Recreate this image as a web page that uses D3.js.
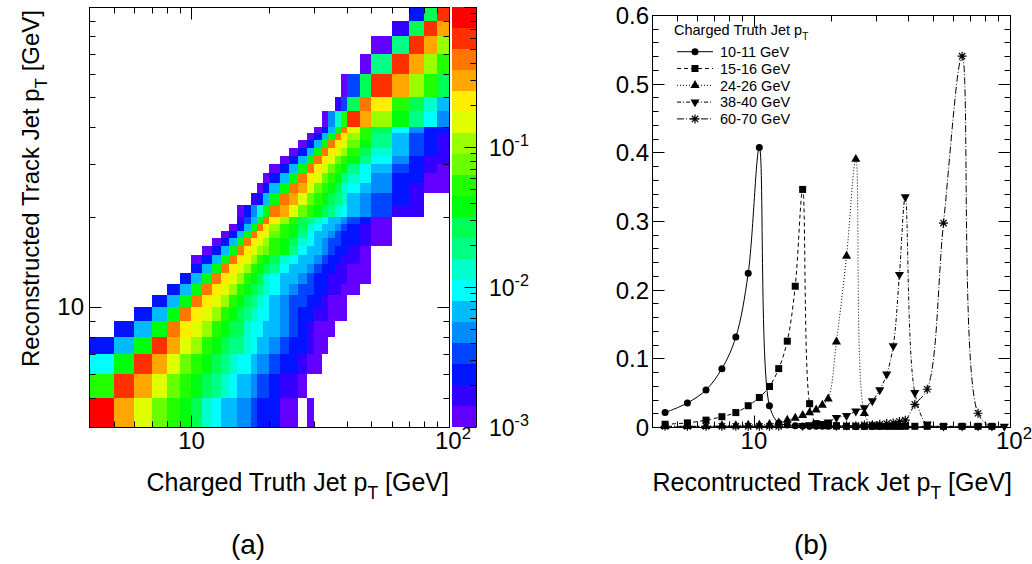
<!DOCTYPE html>
<html>
<head>
<meta charset="utf-8">
<script src="https://d3js.org/d3.v7.min.js"></script>
<style>
  body { margin: 0; background: #fff; }
  svg text { font-family: "Liberation Sans", Arial, Helvetica, sans-serif; fill: #000; }
</style>
</head>
<body>
<svg id="chart" width="1032" height="564"></svg>
<script>
// pT binning (GeV) used for both truth (x) and reco (y) axes
var binEdges = [4,5,6,7,8,9,10,11,12,13,14,15,16,17,18,19,20,22,24,26,28,30,32,34,36,38,40,45,50,60,70,80,90,100];

// response matrix, one entry per reco bin (bottom to top):
// first filled truth bin, then the fractions from that bin to the right
var rowStart = [0,0,0,0,1,2,3,4,5,6,6,7,8,9,10,11,11,13,14,15,16,17,18,19,20,21,22,24,25,27,28,29,30];
var rowValues = [
  [.84,.30,.15,.075,.053,.038,.027,.013,.0094,.0067,.0067,.0047,.0047,.0034,.0024,.0024,.0024,.0012,.0012,0,.0012],
  [.053,.60,.30,.15,.075,.053,.038,.027,.019,.013,.0094,.0067,.0067,.0047,.0034,.0034,.0024,.0017,.0017,.0012],
  [.0094,.038,.60,.30,.15,.075,.053,.038,.027,.019,.013,.0094,.0094,.0067,.0047,.0047,.0034,.0024,.0024,.0017,.0012,.0012],
  [.0024,.0067,.038,.60,.30,.15,.11,.053,.038,.027,.019,.019,.013,.0094,.0067,.0067,.0047,.0034,.0024,.0024,.0017,.0012,.0012],
  [.0024,.0067,.038,.42,.21,.15,.11,.053,.038,.027,.027,.013,.0094,.0094,.0067,.0067,.0047,.0034,.0024,.0017,.0012,.0012,.0012],
  [.0024,.0067,.038,.42,.21,.15,.11,.053,.038,.027,.019,.013,.0094,.0094,.0067,.0047,.0034,.0024,.0024,.0017,.0017,.0012,.0012,.0012],
  [.0024,.0067,.038,.42,.21,.15,.11,.053,.038,.027,.019,.013,.0094,.0067,.0047,.0034,.0034,.0024,.0024,.0017,.0012,.0012,.0012],
  [.0024,.0067,.038,.42,.21,.15,.11,.053,.038,.027,.019,.013,.0094,.0067,.0047,.0034,.0034,.0024,.0024,.0017,.0017,.0012,.0012],
  [.0024,.0067,.038,.42,.21,.15,.11,.053,.038,.027,.013,.0094,.0067,.0067,.0047,.0034,.0024,.0024,.0017,.0017,.0017,.0012,.0012],
  [.0024,.0067,.038,.42,.21,.15,.11,.053,.038,.027,.019,.0094,.0067,.0067,.0047,.0034,.0024,.0024,.0017,.0017,.0012,.0012],
  [.0012,.0024,.0067,.038,.42,.21,.15,.11,.053,.038,.027,.013,.0094,.0067,.0067,.0047,.0034,.0024,.0024,.0017,.0017,.0012],
  [.0012,.0024,.0067,.038,.42,.21,.15,.11,.075,.053,.038,.019,.0094,.0067,.0067,.0047,.0034,.0024,.0024,.0017,.0012],
  [.0012,.0024,.0067,.038,.42,.21,.15,.11,.053,.038,.027,.013,.0094,.0067,.0047,.0034,.0034,.0024,.0024,.0017,.0012],
  [.0012,.0024,.0067,.038,.42,.21,.15,.075,.053,.038,.019,.0094,.0067,.0067,.0047,.0034,.0024,.0024,.0017,.0012],
  [.0012,.0024,.0067,.038,.42,.21,.11,.053,.038,.027,.013,.0094,.0067,.0067,.0047,.0034,.0024,.0017,.0012],
  [.0017,.0034,.0067,.038,.42,.21,.11,.053,.027,.019,.013,.0094,.0067,.0067,.0047,.0034,.0024,.0012],
  [.0012,.0024,.0047,.013,.038,.42,.30,.15,.075,.053,.038,.027,.019,.013,.0094,.0067,.0047,.0034,.0017,.0017],
  [.0017,.0024,.0067,.038,.42,.30,.15,.075,.053,.038,.027,.019,.013,.0067,.0047,.0034,.0024,.0017],
  [.0012,.0024,.0067,.038,.42,.30,.15,.075,.053,.038,.027,.013,.0094,.0067,.0047,.0024,.0017,.0012,.0012],
  [.0012,.0024,.0067,.038,.42,.21,.15,.075,.053,.038,.019,.013,.0094,.0047,.0024,.0024,.0012,.0012],
  [.0012,.0024,.0067,.038,.42,.21,.15,.075,.053,.038,.019,.0094,.0067,.0034,.0024,.0017,.0012],
  [.0012,.0024,.0067,.038,.42,.21,.15,.075,.053,.038,.019,.0094,.0047,.0024,.0017,.0017],
  [.0012,.0024,.0067,.038,.42,.21,.15,.11,.053,.027,.013,.0067,.0034,.0024,.0017],
  [.0012,.0024,.0067,.038,.42,.21,.15,.075,.038,.019,.0067,.0034,.0024,.0017],
  [.0012,.0024,.0067,.038,.42,.21,.11,.053,.019,.0067,.0034,.0024,.0017],
  [.0012,.0024,.0067,.038,.42,.15,.053,.027,.0094,.0047,.0024,.0024],
  [.0012,.0047,.013,.053,.60,.30,.11,.038,.019,.0094,.0047],
  [.0017,.0034,.027,.42,.21,.053,.027,.013,.0067],
  [.0012,.0034,.027,.60,.30,.11,.053,.027],
  [.0012,.019,.60,.30,.11,.053],
  [.0012,.019,.60,.30,.11],
  [.0017,.027,.60,.30],
  [.0024,.027,.60]
];

// panel (b): reco pT distributions for five truth slices, one value per reco bin
var sliceNames = ["10-11 GeV", "15-16 GeV", "24-26 GeV", "38-40 GeV", "60-70 GeV"];
var frac10to11 = [0.021,0.035,0.054,0.085,0.131,0.224,0.407,0.031,0.006,0.003,0.002,0.0015,0.001,0.001,0.001,0.001,0.001,0.001,0.001,0.001,0.001,0.001,0.001,0.001,0.001,0,0,0,0,0,0,0,0];
var frac15to16 = [0.004,0.006,0.010,0.015,0.021,0.031,0.043,0.059,0.085,0.125,0.205,0.346,0.034,0.005,0.003,0.002,0.002,0.001,0.001,0.001,0.001,0.001,0.001,0.001,0.001,0.001,0.001,0.001,0.001,0.001,0.001,0.001,0];
var frac24to26 = [0.001,0.001,0.001,0.002,0.002,0.003,0.003,0.004,0.006,0.010,0.013,0.017,0.021,0.025,0.032,0.041,0.124,0.249,0.390,0.020,0.002,0.001,0.001,0.001,0.001,0.001,0,0,0,0,0,0,0];
var frac38to40 = [0,0,0,0,0,0,0,0,0,0,0,0.002,0.003,0.004,0.005,0.007,0.0136,0.0165,0.023,0.028,0.038,0.054,0.077,0.118,0.222,0.335,0.050,0.004,0.001,0.001,0.001,0.001,0.001];
var frac60to70 = [0.001,0.001,0.001,0.001,0.001,0.001,0.001,0.001,0.001,0,0,0,0,0,0,0,0.001,0.002,0.002,0.003,0.003,0.004,0.005,0.006,0.008,0.010,0.033,0.055,0.297,0.540,0.020,0,0];

var svg = d3.select("#chart");

// geometry
var L = {x0: 89, x1: 449, y0: 7, y1: 427};
var R = {x0: 652, x1: 1010, y0: 15, y1: 427};
var zBar = {x0: 452, x1: 476};
var fs = 24;      // tick labels
var fsTitle = 25; // axis titles

var xA = d3.scaleLog().domain([4, 100]).range([L.x0, L.x1]);
var yA = d3.scaleLog().domain([4, 100]).range([L.y1, L.y0]);
var zA = d3.scaleLog().domain([1e-3, 1]).range([L.y1, L.y0]);
var xB = d3.scaleLog().domain([4, 100]).range([R.x0, R.x1]);
var yB = d3.scaleLinear().domain([0, 0.6]).range([R.y1, R.y0]);

// ROOT "pretty" palette, 20 contour levels
var nLevels = 20;
var palette = d3.range(nLevels).map(function(k) {
  var idx = Math.floor((k + 0.99) * 50 / nLevels);
  return d3.hsl(280 - (idx + 1) * 5.6, 1, 0.5).formatHex();
});
var colour = d3.scaleQuantize().domain([-3, 0]).range(palette);

function line(g, x1, y1, x2, y2) {
  return g.append("line").attr("x1", x1).attr("y1", y1).attr("x2", x2).attr("y2", y2)
    .attr("stroke", "#000").attr("stroke-width", 1);
}
function isDecade(t) {
  return Math.abs(Math.log10(t) - Math.round(Math.log10(t))) < 1e-9;
}
function supText(g, x, y, base, sup, anchor, size) {
  var t = g.append("text").attr("x", x).attr("y", y).attr("font-size", size).attr("text-anchor", anchor);
  t.append("tspan").text(base);
  t.append("tspan").attr("font-size", size * 0.7).attr("dy", -size * 0.42).text(sup);
  return t;
}
function ptTitle(t, pre, post, size) {
  t.attr("font-size", size);
  t.append("tspan").text(pre + "p");
  t.append("tspan").attr("font-size", size * 0.7).attr("dy", size * 0.32).text("T");
  t.append("tspan").attr("dy", -size * 0.32).text(post);
  return t;
}

// ---------- panel (a): 2D response ----------
var gA = svg.append("g");
var cells = [];
rowValues.forEach(function(vals, r) {
  vals.forEach(function(v, i) {
    if (v > 0) cells.push({row: r, col: rowStart[r] + i, v: v});
  });
});
gA.append("g").selectAll("rect").data(cells).join("rect")
  .attr("x", function(d) { return Math.round(xA(binEdges[d.col])); })
  .attr("y", function(d) { return Math.round(yA(binEdges[d.row + 1])); })
  .attr("width", function(d) { return Math.round(xA(binEdges[d.col + 1])) - Math.round(xA(binEdges[d.col])); })
  .attr("height", function(d) { return Math.round(yA(binEdges[d.row])) - Math.round(yA(binEdges[d.row + 1])); })
  .attr("fill", function(d) { return colour(Math.log10(d.v)); })
  .attr("shape-rendering", "crispEdges");

// colour bar
var levels = d3.range(nLevels);
gA.append("g").selectAll("rect").data(levels).join("rect")
  .attr("x", zBar.x0)
  .attr("width", zBar.x1 - zBar.x0)
  .attr("y", function(k) { return Math.round(zA(Math.pow(10, -3 + 3 * (k + 1) / nLevels))); })
  .attr("height", function(k) {
    return Math.round(zA(Math.pow(10, -3 + 3 * k / nLevels))) - Math.round(zA(Math.pow(10, -3 + 3 * (k + 1) / nLevels)));
  })
  .attr("fill", function(k) { return palette[k]; })
  .attr("shape-rendering", "crispEdges");
line(gA, zBar.x1 + 0.5, L.y0, zBar.x1 + 0.5, L.y1);
zA.ticks().forEach(function(t) {
  var y = Math.round(zA(t)) + 0.5;
  var len = isDecade(t) ? 12 : 6;
  line(gA, zBar.x1 + 0.5, y, zBar.x1 + 0.5 - len, y);
  if (isDecade(t) && t < 1) {
    supText(gA, zBar.x1 + 13, y + 8, "10", "-" + Math.round(-Math.log10(t)), "start", 23);
  }
});

// frame and ticks
gA.append("rect").attr("x", L.x0 + 0.5).attr("y", L.y0 + 0.5)
  .attr("width", L.x1 - L.x0).attr("height", L.y1 - L.y0)
  .attr("fill", "none").attr("stroke", "#000");
xA.ticks().forEach(function(t) {
  var x = Math.round(xA(t)) + 0.5, len = isDecade(t) ? 12 : 6;
  line(gA, x, L.y1 + 0.5, x, L.y1 + 0.5 - len);
  line(gA, x, L.y0 + 0.5, x, L.y0 + 0.5 + len);
});
yA.ticks().forEach(function(t) {
  var y = Math.round(yA(t)) + 0.5, len = isDecade(t) ? 12 : 6;
  line(gA, L.x0 + 0.5, y, L.x0 + 0.5 + len, y);
  line(gA, L.x1 + 0.5, y, L.x1 + 0.5 - len, y);
});
gA.append("text").attr("x", xA(10)).attr("y", 449).attr("font-size", fs)
  .attr("text-anchor", "middle").text("10");
supText(gA, xA(100) + 4, 449, "10", "2", "middle", fs);
gA.append("text").attr("x", L.x0 - 5).attr("y", yA(10) + 8).attr("font-size", fs)
  .attr("text-anchor", "end").text("10");

ptTitle(gA.append("text").attr("x", L.x1).attr("y", 491).attr("text-anchor", "end"),
  "Charged Truth Jet ", " [GeV]", fsTitle);
ptTitle(gA.append("text").attr("transform", "translate(39," + (L.y0 + 3) + ") rotate(-90)")
  .attr("text-anchor", "end"), "Reconstructed Track Jet ", " [GeV]", 24);

// ---------- panel (b): slices ----------
var gB = svg.append("g");
var centres = binEdges.slice(0, -1).map(function(e, i) { return (e + binEdges[i + 1]) / 2; });
var sliceData = [frac10to11, frac15to16, frac24to26, frac38to40, frac60to70];
var dashes = [null, "4,3", "1,2", "4,2,1,2", "7,2,1,2"];

svg.append("clipPath").attr("id", "clipB").append("rect")
  .attr("x", R.x0).attr("y", R.y0).attr("width", R.x1 - R.x0).attr("height", R.y1 - R.y0);

var curve = d3.line()
  .x(function(d) { return xB(d.c); })
  .y(function(d) { return yB(d.v); })
  .curve(d3.curveCatmullRom.alpha(0.5));

function marker(g, k, x, y) {
  if (k === 0) {
    g.append("circle").attr("cx", x).attr("cy", y).attr("r", 3.5).attr("fill", "#000");
  } else if (k === 1) {
    g.append("rect").attr("x", x - 3.5).attr("y", y - 3.5).attr("width", 7).attr("height", 7).attr("fill", "#000");
  } else if (k === 2 || k === 3) {
    g.append("path").attr("d", d3.symbol(d3.symbolTriangle, 36)())
      .attr("transform", "translate(" + x + "," + y + ")" + (k === 3 ? " rotate(180)" : ""))
      .attr("fill", "#000");
  } else {
    var r = 4.5, p = "";
    [0, 45, 90, 135].forEach(function(a) {
      var dx = r * Math.cos(a * Math.PI / 180), dy = r * Math.sin(a * Math.PI / 180);
      p += "M" + (x - dx) + "," + (y - dy) + "L" + (x + dx) + "," + (y + dy);
    });
    g.append("path").attr("d", p).attr("stroke", "#000").attr("stroke-width", 1.2).attr("fill", "none");
  }
}

sliceData.forEach(function(vals, k) {
  var pts = vals.map(function(v, i) { return {c: centres[i], v: v}; });
  gB.append("path").datum(pts).attr("d", curve)
    .attr("fill", "none").attr("stroke", "#000").attr("stroke-width", 1)
    .attr("stroke-dasharray", dashes[k]).attr("clip-path", "url(#clipB)");
  var gm = gB.append("g");
  pts.forEach(function(d) {
    if (d.v > 0) marker(gm, k, xB(d.c), yB(d.v));
  });
});

// frame and ticks
gB.append("rect").attr("x", R.x0 + 0.5).attr("y", R.y0 + 0.5)
  .attr("width", R.x1 - R.x0).attr("height", R.y1 - R.y0)
  .attr("fill", "none").attr("stroke", "#000");
xB.ticks().forEach(function(t) {
  var x = Math.round(xB(t)) + 0.5, len = isDecade(t) ? 12 : 6;
  line(gB, x, R.y1 + 0.5, x, R.y1 + 0.5 - len);
  line(gB, x, R.y0 + 0.5, x, R.y0 + 0.5 + len);
});
d3.range(0, 0.6001, 0.02).forEach(function(t, i) {
  var y = Math.round(yB(t)) + 0.5, major = i % 5 === 0, len = major ? 12 : 6;
  line(gB, R.x0 + 0.5, y, R.x0 + 0.5 + len, y);
  line(gB, R.x1 + 0.5, y, R.x1 + 0.5 - len, y);
  if (major) {
    gB.append("text").attr("x", R.x0 - 3).attr("y", y + 8.5).attr("font-size", fs)
      .attr("text-anchor", "end").text(d3.format(".1~f")(t));
  }
});
gB.append("text").attr("x", xB(10)).attr("y", 449).attr("font-size", fs)
  .attr("text-anchor", "middle").text("10");
supText(gB, xB(100) + 4, 449, "10", "2", "middle", fs);
ptTitle(gB.append("text").attr("x", R.x1 + 2).attr("y", 491).attr("text-anchor", "end"),
  "Recontructed Track Jet ", " [GeV]", fsTitle);

// legend
var gL = gB.append("g");
ptTitle(gL.append("text").attr("x", 674).attr("y", 35), "Charged Truth Jet ", "", 14.5);
sliceNames.forEach(function(name, k) {
  var y = 51.7 + k * 16.8;
  gL.append("line").attr("x1", 677).attr("x2", 713).attr("y1", y).attr("y2", y)
    .attr("stroke", "#000").attr("stroke-dasharray", dashes[k]);
  marker(gL, k, 695, y);
  gL.append("text").attr("x", 720).attr("y", y + 5.2).attr("font-size", 14.5).text(name);
});

// sub-figure captions
svg.append("text").attr("x", 248).attr("y", 554).attr("font-size", 28)
  .attr("text-anchor", "middle").attr("font-family", "DejaVu Sans").text("(a)");
svg.append("text").attr("x", 811).attr("y", 554).attr("font-size", 28)
  .attr("text-anchor", "middle").attr("font-family", "DejaVu Sans").text("(b)");
</script>
</body>
</html>
